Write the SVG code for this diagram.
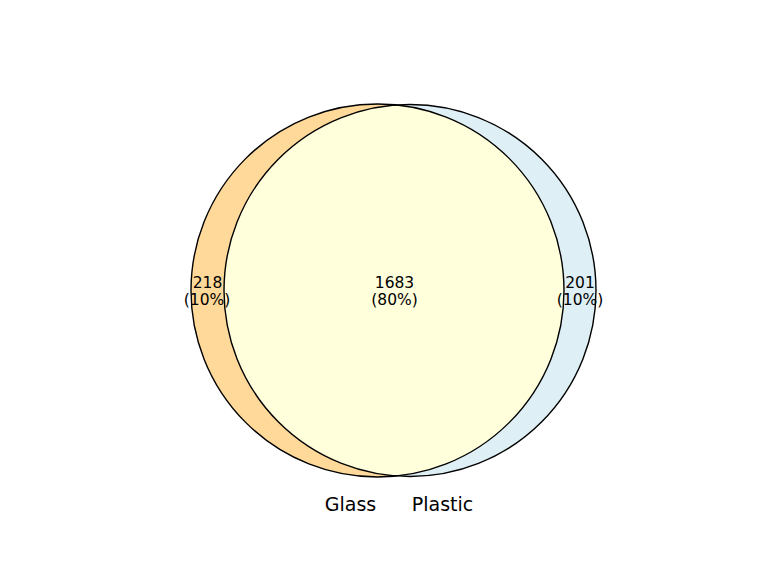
<svg xmlns="http://www.w3.org/2000/svg" width="768" height="576" viewBox="0 0 768 576">
<style>
.lbl{font-family:"DejaVu Sans",sans-serif;font-size:15.5px;text-anchor:middle;fill:#000}
.set{font-family:"DejaVu Sans",sans-serif;font-size:19px;text-anchor:middle;fill:#000}
.ol{fill:none;stroke:#000;stroke-width:1.4}
</style>
<defs>
<clipPath id="clipL"><circle cx="377.5" cy="290.5" r="186.5"/></clipPath>
</defs>
<rect width="768" height="576" fill="#fff"/>
<g id="glass"><circle cx="377.5" cy="290.5" r="186.5" fill="#FFD999"/></g>
<g id="plastic"><circle cx="410" cy="290.5" r="186" fill="#DEEFF5"/></g>
<g id="both"><circle cx="410" cy="290.5" r="186" fill="#FFFFDC" clip-path="url(#clipL)"/></g>
<g id="outlines">
<circle class="ol" cx="377.5" cy="290.5" r="186.5"/>
<circle class="ol" cx="410" cy="290.5" r="186"/>
</g>
<g id="labels">
<text class="lbl" x="207.5" y="287.5">218</text>
<text class="lbl" x="207" y="305">(10%)</text>
<text class="lbl" x="394.5" y="287.5">1683</text>
<text class="lbl" x="394.5" y="305">(80%)</text>
<text class="lbl" x="580" y="287.5">201</text>
<text class="lbl" x="580" y="305">(10%)</text>
<text class="set" x="350.5" y="511">Glass</text>
<text class="set" x="442.5" y="511">Plastic</text>
</g>
</svg>
